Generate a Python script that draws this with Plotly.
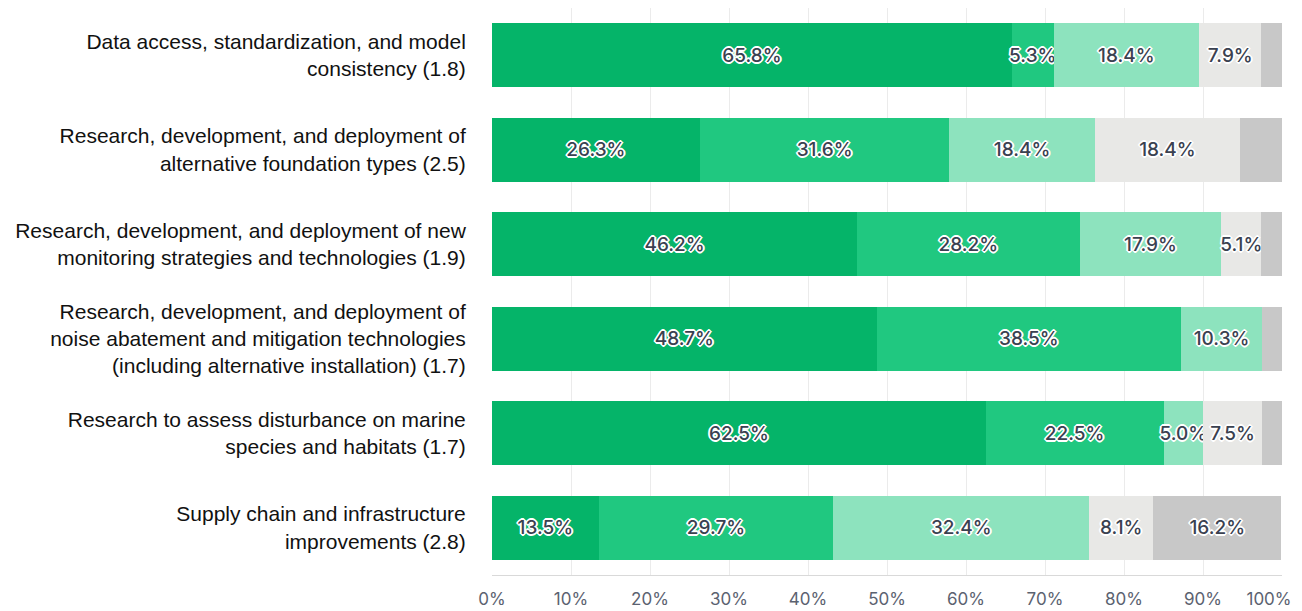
import plotly.graph_objects as go

categories = [
    "Data access, standardization, and model<br>consistency (1.8)",
    "Research, development, and deployment of<br>alternative foundation types (2.5)",
    "Research, development, and deployment of new<br>monitoring strategies and technologies (1.9)",
    "Research, development, and deployment of<br>noise abatement and mitigation technologies<br>(including alternative installation) (1.7)",
    "Research to assess disturbance on marine<br>species and habitats (1.7)",
    "Supply chain and infrastructure<br>improvements (2.8)",
]

series_names = ["Very high priority", "High priority", "Medium priority", "Low priority", "Not a priority"]
very_high = [65.8, 26.3, 46.2, 48.7, 62.5, 13.5]
high = [5.3, 31.6, 28.2, 38.5, 22.5, 29.7]
medium = [18.4, 18.4, 17.9, 10.3, 5.0, 32.4]
low = [7.9, 18.4, 5.1, 0.0, 7.5, 8.1]
not_priority = [2.6, 5.3, 2.6, 2.6, 2.5, 16.2]

colors = ["#05B469", "#20C880", "#8DE3BE", "#E8E8E6", "#C8C8C8"]

tick_vals = [0, 10, 20, 30, 40, 50, 60, 70, 80, 90, 100]
tick_text = ["0%", "10%", "20%", "30%", "40%", "50%", "60%", "70%", "80%", "90%", "100%"]

outline = ",".join(
    f"{dx}px {dy}px 0 #ffffff"
    for dx, dy in [(1, 0), (-1, 0), (0, 1), (0, -1), (1, 1), (-1, -1), (1, -1), (-1, 1),
                   (2, 0), (-2, 0), (0, 2), (0, -2)]
)

fig = go.Figure()
for name, vals, col in zip(series_names, [very_high, high, medium, low, not_priority], colors):
    labels = [f"{v:.1f}%" if v >= 3 else "" for v in vals]
    fig.add_trace(go.Bar(
        y=categories, x=vals, name=name, orientation="h",
        marker=dict(color=col, line=dict(width=0)),
        text=labels, textposition="inside", insidetextanchor="middle",
        textangle=0, constraintext="none", cliponaxis=False,
        textfont=dict(family="Inter", size=19, color="#3A4150", weight=500, shadow=outline),
        hoverinfo="skip",
    ))

# invisible helper so the overlay axis (carrying the "100%" label) is drawn
fig.add_trace(go.Scatter(
    x=tick_vals[-1:], y=categories[:1], xaxis="x2", yaxis="y",
    mode="markers", marker=dict(opacity=0, size=1), hoverinfo="skip", showlegend=False,
))

tickfont = dict(family="Inter", size=17, color="#5B6270")

# the page body adds an 8px offset, so the figure is sized to the visible window
fig.update_layout(
    barmode="stack",
    bargap=0.325,
    width=1294, height=603,
    margin=dict(l=484, r=20, t=0, b=36, autoexpand=False),
    paper_bgcolor="white", plot_bgcolor="white",
    showlegend=False,
    font=dict(family="Liberation Sans, Arial", size=21, color="#111111"),
    xaxis=dict(
        range=[0, 100], tickvals=tick_vals, ticktext=tick_text[:-1] + [""],
        showgrid=True, gridcolor="#EBEBEB", gridwidth=1,
        showline=True, linecolor="#D9D9D9", linewidth=1,
        ticks="outside", ticklen=9, tickcolor="rgba(0,0,0,0)",
        tickfont=tickfont, ticklabeloverflow="allow",
        zeroline=False, fixedrange=True, automargin=False,
    ),
    # second bottom axis carries only the last label, nudged left to stay inside the window
    xaxis2=dict(
        overlaying="x", side="bottom", anchor="y", range=[0, 100],
        tickvals=tick_vals[-1:], ticktext=tick_text[-1:],
        showgrid=False, showline=False, zeroline=False,
        ticks="outside", ticklen=9, tickcolor="rgba(0,0,0,0)",
        tickfont=tickfont, ticklabelshift=-13, ticklabeloverflow="allow",
        fixedrange=True, automargin=False,
    ),
    yaxis=dict(
        categoryorder="array", categoryarray=categories, autorange="reversed",
        showgrid=False, showline=False, ticks="outside", ticklen=21, tickcolor="rgba(0,0,0,0)",
        tickfont=dict(family="Liberation Sans, Arial", size=21, color="#111111"),
        fixedrange=True, automargin=False,
    ),
)

fig.write_html("out.html")
